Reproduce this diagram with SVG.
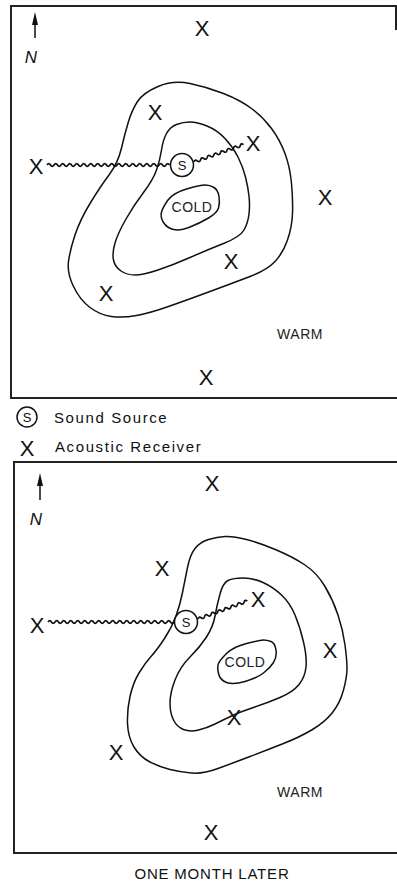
<svg xmlns="http://www.w3.org/2000/svg" width="397" height="881" viewBox="0 0 397 881">
<style>
.frame{fill:none;stroke:#222;stroke-width:2}
.contour{fill:none;stroke:#111;stroke-width:1.5}
.wave{fill:none;stroke:#111;stroke-width:1.7}
.rx{font-family:"Liberation Sans",Arial,sans-serif;font-size:22px;fill:#111;text-anchor:middle}
.lbl{font-family:"Liberation Sans",Arial,sans-serif;font-size:14px;fill:#222;text-anchor:middle;letter-spacing:0.5px}
.src circle{fill:#fff;stroke:#111;stroke-width:1.5}
.src text{font-family:"Liberation Sans",Arial,sans-serif;font-size:13px;fill:#111;text-anchor:middle}
.north{font-family:"Liberation Sans",Arial,sans-serif;font-size:17px;font-style:italic;fill:#111;text-anchor:middle}
.leg{font-family:"Liberation Sans",Arial,sans-serif;font-size:15px;fill:#111;letter-spacing:1.6px}
</style>
<g id="panel-top">
<path class="frame" d="M396,30 V6 H11 V398 H397"/>
<g id="north-top"><line x1="35" y1="22" x2="35" y2="38" stroke="#111" stroke-width="1.5"/><polygon points="35,12 32,25 38,25" fill="#111"/><text class="north" x="31" y="63">N</text></g>
<g id="contours-top">
<path class="contour" d="M190,83.5 Q207,87 223.5,93.5 Q240,100 251.5,108.5 Q263,117 271.5,128.5 Q280,140 285,153.5 Q290,167 291.5,183.5 Q293,200 292.5,213.5 Q292,227 287.5,240 Q283,253 275,261.5 Q267,270 250,276.5 Q233,283 210,291.5 Q187,300 168.5,306.5 Q150,313 136.5,315.5 Q123,318 111.5,316.5 Q100,315 90,307.5 Q80,300 73.5,286.5 Q67,273 68.5,261.5 Q70,250 75,235 Q80,220 90,203.5 Q100,187 109,175 Q118,163 121.5,148 Q125,133 128.5,121.5 Q132,110 137.5,101.5 Q143,93 158,86.5 Q173,80 190,83.5 Z"/>
<path class="contour" d="M190,122 Q197,122 207,126 Q217,130 225,138.5 Q233,147 238,157 Q243,167 245.5,177 Q248,187 249,196 Q250,205 249,214 Q248,223 244,230 Q240,237 223.5,243.5 Q207,250 190,257.5 Q173,265 158,270 Q143,275 135,275 Q127,275 121,271 Q115,267 113.5,260 Q112,253 115,243 Q118,233 126,219 Q134,205 143.5,192.5 Q153,180 156.5,170 Q160,160 161.5,150 Q163,140 166.5,133.5 Q170,127 176.5,124.5 Q183,122 190,122 Z"/>
<path class="contour" d="M205,185 Q210,185 214,187.5 Q218,190 219,196.5 Q220,203 218.5,208 Q217,213 208.5,218 Q200,223 190,227 Q180,231 173.5,229.5 Q167,228 163.5,222.5 Q160,217 161.5,212 Q163,207 168,200 Q173,193 186.5,189 Q200,185 205,185 Z"/>
<text class="lbl" x="192" y="212">COLD</text>
<text class="lbl" x="300" y="339">WARM</text>
</g>
<g id="rays-top">
<path class="wave" d="M47,165 q1.75,-2.6 3.5,0 t3.5,0 t3.5,0 t3.5,0 t3.5,0 t3.5,0 t3.5,0 t3.5,0 t3.5,0 t3.5,0 t3.5,0 t3.5,0 t3.5,0 t3.5,0 t3.5,0 t3.5,0 t3.5,0 t3.5,0 t3.5,0 t3.5,0 t3.5,0 t3.5,0 t3.5,0 t3.5,0 t3.5,0 t3.5,0 t3.5,0 t3.5,0 t3.5,0 t3.5,0 t3.5,0 t3.5,0 t3.5,0 t3.5,0 t3.5,0"/>
<path class="wave" transform="translate(194,162) rotate(-19.4)" d="M0,0 q1.75,-2.6 3.5,0 t3.5,0 t3.5,0 t3.5,0 t3.5,0 t3.5,0 t3.5,0 t3.5,0 t3.5,0 t3.5,0 t3.5,0 t3.5,0 t3.5,0 t3.5,0 t3.5,0"/>
</g>
<g id="receivers-top">
<text class="rx" x="202" y="36">X</text>
<text class="rx" x="155" y="120">X</text>
<text class="rx" x="253" y="151">X</text>
<text class="rx" x="36" y="174">X</text>
<text class="rx" x="325" y="205">X</text>
<text class="rx" x="231" y="269">X</text>
<text class="rx" x="106" y="301">X</text>
<text class="rx" x="206" y="385">X</text>
</g>
<g id="source-top" class="src"><circle cx="182" cy="165" r="11.5"/><text x="182" y="170">S</text></g>
</g>
<g id="legend">
<g class="src"><circle cx="27" cy="417" r="10"/><text x="27" y="422">S</text></g>
<text class="leg" x="54" y="423">Sound Source</text>
<text class="rx" x="27" y="456">X</text>
<text class="leg" x="55" y="452">Acoustic Receiver</text>
</g>
<g id="panel-bottom">
<path class="frame" d="M397,462 H14 V853 H397"/>
<g id="north-bottom"><line x1="40" y1="483" x2="40" y2="500" stroke="#111" stroke-width="1.5"/><polygon points="40,473 37,486 43,486" fill="#111"/><text class="north" x="36" y="525">N</text></g>
<g id="contours-bottom">
<path class="contour" d="M225,536.5 Q233,536 246.5,539.5 Q260,543 276.5,550 Q293,557 305,565 Q317,573 325,586.5 Q333,600 338,615 Q343,630 345,645 Q347,660 347,668.5 Q347,677 343.5,690 Q340,703 332.5,712.5 Q325,722 312.5,729.5 Q300,737 283.5,743.5 Q267,750 250,756.5 Q233,763 218,768.5 Q203,774 191.5,773 Q180,772 170,769.5 Q160,767 150,762 Q140,757 134,747 Q128,737 127.5,723.5 Q127,710 130,696.5 Q133,683 139,673 Q145,663 151,656.5 Q157,650 164.5,638.5 Q172,627 176,616 Q180,605 182.5,592.5 Q185,580 187.5,567.5 Q190,555 195,548.5 Q200,542 208.5,539.5 Q217,537 225,536.5 Z"/>
<path class="contour" d="M243,578 Q253,578 263,582.5 Q273,587 281.5,595 Q290,603 295,615 Q300,627 303.5,642 Q307,657 306,667 Q305,677 299,684.5 Q293,692 280,697.5 Q267,703 253.5,707.5 Q240,712 231.5,716 Q223,720 215,724 Q207,728 198.5,730 Q190,732 183.5,729.5 Q177,727 173.5,720 Q170,713 170,703 Q170,693 175,680 Q180,667 190,657 Q200,647 206.5,637 Q213,627 215,616 Q217,605 220,594 Q223,583 228,580.5 Q233,578 243,578 Z"/>
<path class="contour" d="M263.5,640 Q267,640 271,641.5 Q275,643 276,650 Q277,657 273.5,662.5 Q270,668 263.5,673 Q257,678 245,681.5 Q233,685 226.5,682.5 Q220,680 218.5,673.5 Q217,667 218.5,663.5 Q220,660 226.5,653.5 Q233,647 246.5,643.5 Q260,640 263.5,640 Z"/>
<text class="lbl" x="245" y="667">COLD</text>
<text class="lbl" x="300" y="797">WARM</text>
</g>
<g id="rays-bottom">
<path class="wave" d="M48,622 q1.75,-2.6 3.5,0 t3.5,0 t3.5,0 t3.5,0 t3.5,0 t3.5,0 t3.5,0 t3.5,0 t3.5,0 t3.5,0 t3.5,0 t3.5,0 t3.5,0 t3.5,0 t3.5,0 t3.5,0 t3.5,0 t3.5,0 t3.5,0 t3.5,0 t3.5,0 t3.5,0 t3.5,0 t3.5,0 t3.5,0 t3.5,0 t3.5,0 t3.5,0 t3.5,0 t3.5,0 t3.5,0 t3.5,0 t3.5,0 t3.5,0 t3.5,0 t3.5,0"/>
<path class="wave" transform="translate(198,619) rotate(-20)" d="M0,0 q1.75,-2.6 3.5,0 t3.5,0 t3.5,0 t3.5,0 t3.5,0 t3.5,0 t3.5,0 t3.5,0 t3.5,0 t3.5,0 t3.5,0 t3.5,0 t3.5,0 t3.5,0 t3.5,0"/>
</g>
<g id="receivers-bottom">
<text class="rx" x="212" y="491">X</text>
<text class="rx" x="162" y="576">X</text>
<text class="rx" x="258" y="607">X</text>
<text class="rx" x="37" y="633">X</text>
<text class="rx" x="330" y="658">X</text>
<text class="rx" x="234" y="725">X</text>
<text class="rx" x="116" y="760">X</text>
<text class="rx" x="211" y="840">X</text>
</g>
<g id="source-bottom" class="src"><circle cx="186" cy="622" r="11.5"/><text x="186" y="627">S</text></g>
</g>
<text x="212" y="879" font-family="Liberation Sans, Arial, sans-serif" font-size="15" fill="#111" text-anchor="middle" letter-spacing="0.8">ONE MONTH LATER</text>
</svg>
